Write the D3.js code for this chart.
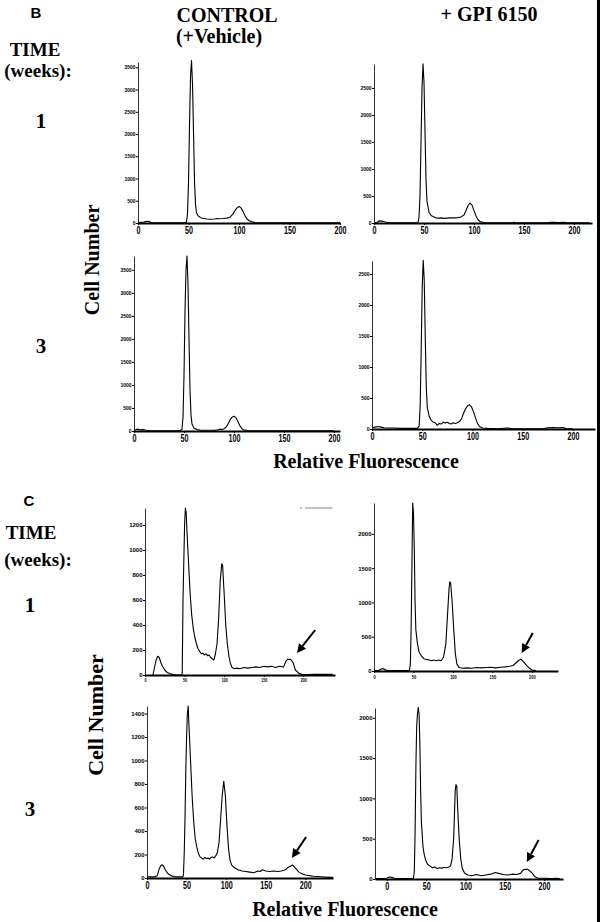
<!DOCTYPE html>
<html>
<head>
<meta charset="utf-8">
<script src="https://cdn.jsdelivr.net/npm/d3@7"></script>
<style>
  body { margin: 0; background: #fff; }
  svg { display: block; }
  .lbl { font-family: "Liberation Serif", "Times New Roman", serif; font-weight: bold; fill: #000; }
  .letter { font-family: "Liberation Sans", Arial, sans-serif; font-weight: bold; fill: #000; }
  .tick text { font-family: "Liberation Sans Narrow", "Liberation Sans", Arial, sans-serif; font-weight: bold; fill: #000; }
</style>
</head>
<body>
<svg id="canvas"></svg>
<script>
var width = 600
var height = 922

// histogram data: [relative fluorescence channel, cell number]
var bWeek1Control = [[0,10],[3,15],[6,20],[9,40],[11,35],[13,10],[16,5],[20,5],[30,5],[40,5],[45,5],[48,20],[49,200],[50,900],[51,2200],[52,3300],[53,3650],[54,3100],[55,2000],[56,900],[57,400],[58,220],[60,150],[62,120],[65,100],[68,90],[72,85],[76,90],[78,100],[80,95],[84,100],[88,110],[91,130],[94,200],[96,280],[98,340],[100,370],[102,340],[104,260],[106,160],[108,90],[110,50],[113,25],[116,10],[120,5],[140,2],[160,2],[180,2],[200,2]]
var bWeek1Gpi = [[0,5],[3,10],[5,40],[8,35],[11,20],[14,10],[18,5],[30,5],[40,5],[44,10],[45,100],[46,500],[47,1500],[48,2500],[49,2950],[50,2600],[51,1700],[52,800],[53,400],[55,200],[57,140],[60,110],[62,95],[65,90],[68,95],[70,85],[73,90],[76,95],[80,95],[84,100],[87,110],[90,150],[92,230],[94,320],[96,370],[98,330],[100,230],[102,130],[104,60],[106,25],[110,10],[115,5],[139,3],[140,12],[141,3],[174,3],[176,12],[180,14],[185,10],[190,12],[192,3],[215,3]]
var bWeek3Control = [[0,10],[3,40],[6,25],[9,30],[12,15],[15,10],[20,5],[30,5],[40,5],[46,5],[48,40],[49,300],[50,1200],[51,2600],[52,3500],[53,3800],[54,3200],[55,2000],[56,900],[57,350],[58,150],[60,60],[63,30],[66,20],[70,15],[80,15],[84,25],[86,40],[88,30],[90,50],[92,80],[94,150],[96,240],[98,300],[100,320],[102,290],[104,200],[106,110],[108,50],[110,20],[114,10],[120,5],[150,3],[170,3],[200,3]]
var bWeek3Gpi = [[0,20],[3,30],[6,40],[9,30],[12,20],[16,15],[20,15],[30,10],[40,10],[45,10],[47,50],[48,400],[49,1300],[50,2300],[51,2720],[52,2400],[53,1500],[54,700],[55,350],[57,200],[59,140],[61,110],[63,100],[65,60],[67,90],[69,80],[71,110],[73,95],[75,110],[77,90],[79,80],[81,100],[83,90],[85,100],[87,120],[89,160],[91,250],[93,320],[95,370],[97,390],[99,360],[101,280],[103,180],[105,90],[107,40],[110,15],[115,10],[125,5],[135,15],[140,5],[170,5],[175,18],[180,22],[185,20],[190,22],[194,5],[200,3]]

var cWeek1Control = [[10,0],[12,60],[14,120],[16,150],[18,140],[20,100],[22,70],[25,40],[28,20],[32,10],[35,5],[40,0],[46,0],[47,10],[48,600],[49,900],[50,1200],[51,1336],[52,1300],[53,1150],[55,900],[57,650],[59,480],[61,370],[63,300],[65,250],[67,210],[69,190],[71,170],[73,175],[75,160],[77,170],[79,155],[81,160],[83,140],[85,130],[87,120],[89,170],[91,250],[93,450],[95,750],[97,890],[98,880],[100,650],[102,400],[104,250],[106,150],[108,90],[110,60],[113,50],[116,55],[120,50],[125,60],[130,55],[135,60],[140,65],[145,60],[150,70],[155,65],[160,70],[165,60],[170,70],[175,65],[178,110],[180,125],[184,125],[187,100],[190,40],[194,15],[198,5],[205,3],[215,5],[225,5],[237,5]]
var cWeek1Gpi = [[0,5],[5,5],[8,20],[11,35],[14,20],[18,5],[30,5],[40,5],[45,10],[46,100],[47,600],[48,1500],[49,2450],[50,2300],[51,1800],[52,1000],[53,600],[55,400],[57,280],[60,220],[63,180],[66,170],[70,160],[73,150],[76,160],[79,150],[82,160],[85,150],[88,200],[91,400],[93,800],[95,1200],[96,1300],[97,1290],[99,1000],[101,600],[103,250],[105,100],[108,50],[112,40],[118,45],[124,40],[130,50],[136,45],[142,50],[148,55],[154,45],[160,55],[166,60],[172,70],[176,80],[180,120],[184,160],[186,170],[188,150],[191,110],[194,70],[197,40],[200,15],[205,5]]
var cWeek3Control = [[0,10],[10,10],[13,20],[15,70],[17,100],[19,113],[21,100],[23,70],[26,40],[30,20],[35,10],[45,10],[46,20],[47,200],[48,500],[49,900],[50,1200],[51,1400],[52,1464],[53,1300],[55,1000],[57,700],[59,480],[61,330],[63,260],[65,210],[67,180],[69,170],[71,160],[73,175],[75,165],[77,170],[79,160],[81,175],[83,180],[85,170],[87,190],[89,220],[91,300],[93,500],[95,700],[97,823],[99,700],[101,450],[103,250],[105,150],[107,110],[110,90],[115,70],[120,60],[125,55],[130,50],[135,45],[140,60],[143,55],[146,70],[150,60],[155,55],[160,60],[165,55],[170,60],[175,70],[178,90],[181,100],[184,110],[186,95],[188,80],[192,50],[196,35],[200,25],[205,20],[210,15],[220,10],[230,5],[235,5]]
var cWeek3Gpi = [[-15,5],[-5,5],[0,10],[3,25],[6,20],[10,10],[15,5],[30,5],[34,10],[35,100],[36,600],[37,1400],[38,1900],[39,2050],[40,2130],[41,2050],[42,1700],[43,1100],[44,700],[46,400],[48,280],[50,220],[52,180],[55,160],[58,140],[61,150],[64,130],[67,140],[70,135],[73,145],[76,140],[79,150],[81,160],[83,250],[85,500],[86,800],[87,1100],[88,1170],[89,1150],[90,900],[92,500],[94,250],[96,130],[99,70],[103,50],[108,40],[114,55],[120,40],[126,50],[132,60],[138,80],[142,70],[148,55],[154,50],[160,60],[165,55],[170,70],[173,110],[176,120],[179,120],[182,100],[185,70],[188,30],[192,10],[200,10],[210,5],[215,10],[220,5]]

// tick values
var xTicks = [0, 50, 100, 150, 200]
var bControlYTicks = [0, 500, 1000, 1500, 2000, 2500, 3000, 3500]
var bGpiYTicks = [0, 500, 1000, 1500, 2000, 2500]
var cWeek1ControlYTicks = [0, 200, 400, 600, 800, 1000, 1200]
var cWeek3ControlYTicks = [0, 200, 400, 600, 800, 1000, 1200, 1400]
var cGpiYTicks = [0, 500, 1000, 1500, 2000]

// arrows marking the >4N population: [tail], [tip] in data units
var cWeek1ControlArrow = [[215, 360], [192, 176]]
var cWeek1GpiArrow = [[201, 554], [187, 262]]
var cWeek3ControlArrow = [[201, 349], [183, 170]]
var cWeek3GpiArrow = [[193, 484], [178, 211]]

var svg = d3.select("#canvas")
	.attr("width", width)
	.attr("height", height)

svg.append("rect").attr("width", width).attr("height", height).attr("fill", "white")

var panels = [
	{data: bWeek1Control, xd: [0, 200], xr: [138, 340], yd: [0, 3620], yr: [223, 62], yt: bControlYTicks, yfs: 5, xfs: 9},
	{data: bWeek1Gpi, xd: [0, 218], xr: [374, 592], yd: [0, 2944], yr: [223, 64], yt: bGpiYTicks, yfs: 5, xfs: 9},
	{data: bWeek3Control, xd: [0, 206], xr: [134, 340], yd: [0, 3800], yr: [431, 256], yt: bControlYTicks, yfs: 5, xfs: 9},
	{data: bWeek3Gpi, xd: [0, 222], xr: [372, 595], yd: [0, 2710], yr: [429, 261], yt: bGpiYTicks, yfs: 5, xfs: 9},
	{data: cWeek1Control, xd: [0, 240], xr: [145, 335], yd: [0, 1336], yr: [675, 508], yt: cWeek1ControlYTicks, yfs: 6, xfs: 4.5, arrow: cWeek1ControlArrow, marker: [196, 237]},
	{data: cWeek1Gpi, xd: [0, 233], xr: [374, 558], yd: [0, 2450], yr: [671, 503], yt: cGpiYTicks, yfs: 6, xfs: 5, arrow: cWeek1GpiArrow},
	{data: cWeek3Control, xd: [0, 235], xr: [147, 333], yd: [0, 1464], yr: [878, 706], yt: cWeek3ControlYTicks, yfs: 6, xfs: 9, arrow: cWeek3ControlArrow},
	{data: cWeek3Gpi, xd: [-15, 224], xr: [375, 563], yd: [0, 2121], yr: [879, 708], yt: cGpiYTicks, yfs: 6, xfs: 9, arrow: cWeek3GpiArrow}
]

panels.forEach(function(p) {
	var x = d3.scaleLinear().domain(p.xd).range(p.xr)
	var y = d3.scaleLinear().domain(p.yd).range(p.yr)
	var g = svg.append("g")

	var yAxis = g.append("g")
		.attr("transform", "translate(" + p.xr[0] + ",0)")
		.call(d3.axisLeft(y).tickValues(p.yt).tickFormat(d3.format("d")).tickSize(2).tickSizeOuter(0).tickPadding(0.5))
	yAxis.select(".domain").attr("stroke", "#333").attr("stroke-width", 1)
	yAxis.selectAll(".tick line").attr("stroke", "#000")
	yAxis.selectAll(".tick text").style("font-size", p.yfs + "px").style("font-family", "Liberation Sans, Arial, sans-serif")

	var xAxis = g.append("g")
		.attr("transform", "translate(0," + p.yr[0] + ")")
		.call(d3.axisBottom(x).tickValues(xTicks).tickFormat(d3.format("d")).tickSize(2).tickSizeOuter(0).tickPadding(1))
	xAxis.select(".domain").attr("stroke", "#000").attr("stroke-width", 2)
	xAxis.selectAll(".tick line").attr("stroke", "#000")
	xAxis.selectAll(".tick text").style("font-size", p.xfs + "px")
		.attr("transform", "scale(0.8,1.15)")

	var line = d3.line()
		.x(function(d) { return x(d[0]) })
		.y(function(d) { return y(d[1]) })

	g.append("path")
		.datum(p.data)
		.attr("d", line)
		.attr("fill", "none")
		.attr("stroke", "#000")
		.attr("stroke-width", 1.1)
		.attr("stroke-linejoin", "round")

	if (p.arrow) {
		var x1 = x(p.arrow[0][0]), y1 = y(p.arrow[0][1])
		var x2 = x(p.arrow[1][0]), y2 = y(p.arrow[1][1])
		var ang = Math.atan2(y2 - y1, x2 - x1)
		var len = 9, half = 4.5
		var bx = x2 - len * Math.cos(ang), by = y2 - len * Math.sin(ang)
		g.append("line")
			.attr("x1", x1).attr("y1", y1).attr("x2", bx).attr("y2", by)
			.attr("stroke", "#000").attr("stroke-width", 2)
		g.append("path")
			.attr("d", "M" + x2 + "," + y2 +
				"L" + (bx + half * Math.sin(ang)) + "," + (by - half * Math.cos(ang)) +
				"L" + (bx - half * Math.sin(ang)) + "," + (by + half * Math.cos(ang)) + "Z")
			.attr("fill", "#000")
	}

	if (p.marker) {
		g.append("line")
			.attr("x1", x(p.marker[0])).attr("x2", x(p.marker[1]))
			.attr("y1", p.yr[1]).attr("y2", p.yr[1])
			.attr("stroke", "#888").attr("stroke-width", 1)
			.attr("stroke-dasharray", "2,3,30")
	}
})

// labels
var labels = [
	{t: "B", x: 36, y: 18, s: 15, c: "letter"},
	{t: "CONTROL", x: 227, y: 22, s: 20},
	{t: "(+Vehicle)", x: 219, y: 43, s: 20},
	{t: "+ GPI 6150", x: 489, y: 21, s: 20},
	{t: "TIME", x: 35, y: 56, s: 19},
	{t: "(weeks):", x: 38, y: 77, s: 19},
	{t: "1", x: 41, y: 128, s: 21},
	{t: "3", x: 41, y: 353, s: 21},
	{t: "Relative Fluorescence", x: 366, y: 468, s: 20},
	{t: "C", x: 29, y: 506, s: 15, c: "letter"},
	{t: "TIME", x: 31, y: 539, s: 19},
	{t: "(weeks):", x: 38, y: 566, s: 19},
	{t: "1", x: 30, y: 612, s: 21},
	{t: "3", x: 30, y: 816, s: 21},
	{t: "Relative Fluorescence", x: 345, y: 916, s: 20}
]

svg.selectAll("text.lbl")
	.data(labels)
	.join("text")
	.attr("class", function(d) { return d.c || "lbl" })
	.attr("x", function(d) { return d.x })
	.attr("y", function(d) { return d.y })
	.attr("text-anchor", "middle")
	.style("font-size", function(d) { return d.s + "px" })
	.text(function(d) { return d.t })

var vert = [
	{t: "Cell Number", x: 92, y: 260, s: 20},
	{t: "Cell Number", x: 95, y: 715, s: 22}
]
vert.forEach(function(d) {
	svg.append("text")
		.attr("class", "lbl")
		.attr("transform", "translate(" + (d.x + d.s * 0.35) + "," + d.y + ") rotate(-90)")
		.attr("text-anchor", "middle")
		.style("font-size", d.s + "px")
		.text(d.t)
})

// right frame edge
svg.append("rect").attr("x", 597).attr("y", 0).attr("width", 3).attr("height", height).attr("fill", "#000")
</script>
</body>
</html>
